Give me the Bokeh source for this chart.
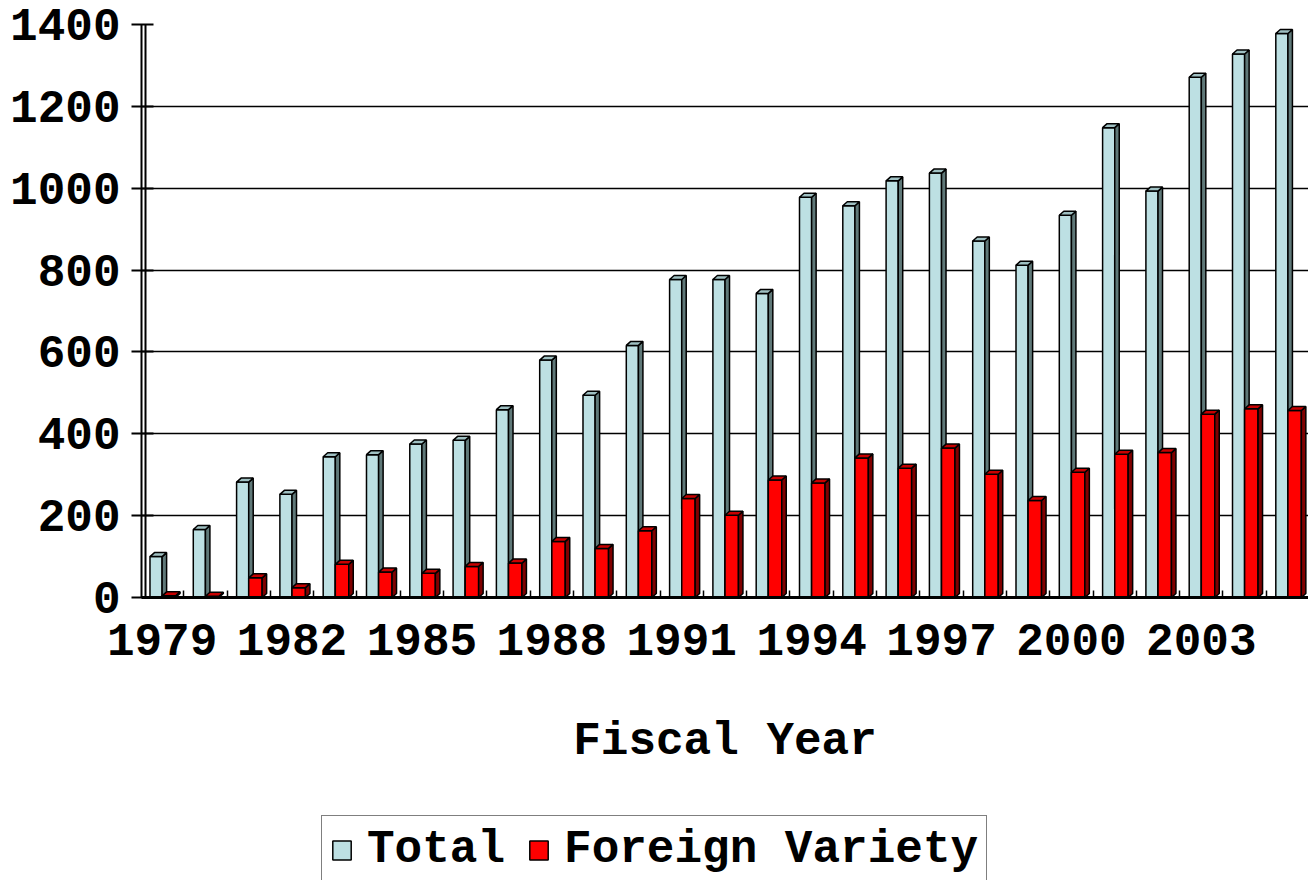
from bokeh.plotting import figure
from bokeh.layouts import column
from bokeh.models import Range1d, FixedTicker, Span, Legend, LegendItem
from bokeh.embed import file_html
from bokeh.resources import INLINE

years = list(range(1979, 2006))
total = [100, 166, 282, 252, 344, 349, 375, 384, 459, 580, 494, 616, 777, 777,
         743, 978, 957, 1018, 1037, 871, 812, 934, 1148, 993, 1271, 1328, 1378]
foreign = [4, 3, 48, 24, 81, 62, 59, 76, 84, 137, 120, 163, 242, 201,
           287, 280, 341, 316, 365, 301, 237, 306, 350, 354, 448, 461, 457]
y_ticks = [0, 200, 400, 600, 800, 1000, 1200, 1400]
x_label_years = [1979, 1982, 1985, 1988, 1991, 1994, 1997, 2000, 2003]
series_names = ["Total", "Foreign Variety"]

FONT = "Liberation Mono"
FS = "46px"
TOTAL_COLORS = ("#BDE0E3", "#5F7878", "#9FC0C2")
FOREIGN_COLORS = ("#FF0000", "#800000", "#C80000")

W = 1308
H_MAIN, H_LEG = 815, 65
LEFT, TOP, BOTTOM = 141, 24, 218
frame_w = W - LEFT
frame_h = H_MAIN - TOP - BOTTOM

x0, x1 = 1978.524, 2005.475
p = figure(width=W, height=H_MAIN, output_backend="svg", toolbar_location=None,
           x_range=Range1d(x0, x1), y_range=Range1d(0, 1400),
           min_border_left=LEFT, min_border_right=0, min_border_top=TOP,
           min_border_bottom=BOTTOM, outline_line_color=None,
           background_fill_color="white", border_fill_color="white")

ux = (x1 - x0) / frame_w
uy = 1400 / frame_h
dx = 4.5 * ux
dy = 4.0 * uy


def bar3d(fig, xl, xr, heights, colors):
    front, side, top = colors
    r = fig.quad(left=xl, right=xr, bottom=[0] * len(heights), top=heights,
                 fill_color=front, line_color="black", line_width=1.5)
    sx, sy, tx, ty = [], [], [], []
    for a, b, h in zip(xl, xr, heights):
        sx.append([b, b + dx, b + dx, b])
        sy.append([0, dy, h + dy, h])
        tx.append([a, b, b + dx, a + dx])
        ty.append([h, h, h + dy, h + dy])
    fig.patches(sx, sy, fill_color=side, line_color="black", line_width=1.5)
    fig.patches(tx, ty, fill_color=top, line_color="black", line_width=1.5)
    return r


bar3d(p, [y - 0.28 for y in years], [y for y in years], total, TOTAL_COLORS)
bar3d(p, [y for y in years], [y + 0.31 for y in years], foreign, FOREIGN_COLORS)

# second wall line
p.add_layout(Span(location=x0 + 4 * ux, dimension="height",
                  line_color="black", line_width=2))

p.xgrid.grid_line_color = None
p.ygrid.grid_line_color = "black"
p.ygrid.grid_line_width = 1.5
p.ygrid.ticker = FixedTicker(ticks=y_ticks)

ya = p.yaxis[0]
ya.ticker = FixedTicker(ticks=y_ticks)
ya.axis_line_color = "black"
ya.axis_line_width = 2
ya.major_tick_line_color = "black"
ya.major_tick_line_width = 2
ya.major_tick_out = 10
ya.major_tick_in = 12
ya.minor_tick_line_color = None
ya.major_label_standoff = 11
ya.major_label_text_font = FONT
ya.major_label_text_font_style = "bold"
ya.major_label_text_font_size = FS
ya.major_label_text_color = "black"

xa = p.xaxis[0]
xa.ticker = FixedTicker(ticks=x_label_years,
                        minor_ticks=[y + 0.5 for y in years[:-1]])
xa.major_label_overrides = {y: str(y) for y in x_label_years}
xa.axis_line_color = "black"
xa.axis_line_width = 3
xa.major_tick_line_color = None
xa.major_tick_out = 0
xa.major_tick_in = 0
xa.minor_tick_line_color = "black"
xa.minor_tick_line_width = 1.5
xa.minor_tick_in = 7
xa.minor_tick_out = 0
xa.major_label_standoff = 26
xa.major_label_text_font = FONT
xa.major_label_text_font_style = "bold"
xa.major_label_text_font_size = FS
xa.major_label_text_color = "black"
xa.axis_label = "Fiscal Year"
xa.axis_label_text_font = FONT
xa.axis_label_text_font_style = "bold"
xa.axis_label_text_font_size = FS
xa.axis_label_text_color = "black"
xa.axis_label_standoff = 58

# legend strip below the chart (its glyphs lie outside its own view)
lg = figure(width=W, height=H_LEG, output_backend="svg", toolbar_location=None,
            x_range=Range1d(0, 1), y_range=Range1d(0, 1),
            x_axis_location=None, y_axis_location=None,
            min_border=0, outline_line_color=None,
            background_fill_color="white", border_fill_color="white")
lg.xgrid.grid_line_color = None
lg.ygrid.grid_line_color = None
items = []
for name, cols in zip(series_names, [TOTAL_COLORS, FOREIGN_COLORS]):
    r = lg.quad(left=[years[0]], right=[years[0]], bottom=[0], top=[total[0]],
                fill_color=cols[0], line_color="black", line_width=1.5)
    items.append(LegendItem(label=name, renderers=[r]))

legend = Legend(items=items, location=(180, -5), orientation="horizontal",
                label_text_font=FONT, label_text_font_style="bold",
                label_text_font_size=FS, label_text_color="black",
                glyph_width=23, glyph_height=24, label_standoff=14,
                spacing=22, padding=8, margin=0,
                border_line_color="black", border_line_width=1.5,
                background_fill_color="white", background_fill_alpha=1.0)
lg.add_layout(legend)

layout = column(p, lg, spacing=0)
open("out.html", "w").write(file_html(layout, INLINE))
